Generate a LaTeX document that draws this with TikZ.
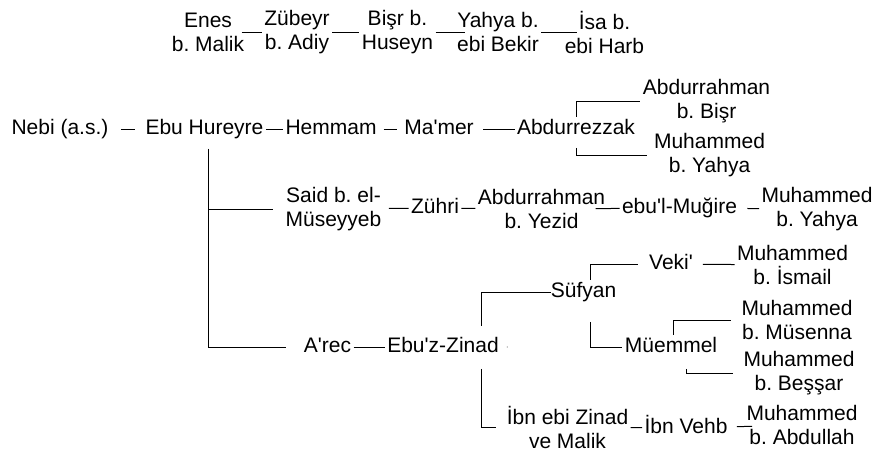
\documentclass[tikz,border=0pt]{standalone}
\usepackage{fontspec}
\newfontfamily\arialfont{Liberation Sans}
\frenchspacing
\usetikzlibrary{positioning}

\tikzset{
  person/.style={inner sep=2pt, text height=15pt, text depth=4.5pt},
  person2/.style={inner sep=2pt, align=center}
}

\begin{document}
\begin{tikzpicture}[x=1pt, y=-1pt, line width=1pt,
    every node/.style={font=\arialfont\frenchspacing\fontsize{21}{24}\selectfont}]
  \useasboundingbox (0,0) rectangle (874,455);

  % upper chain
  \node[person2] (enes)   at (208,32)   {Enes\\b. Malik};
  \node[person2] (zubeyr) at (297,32)   {Zübeyr\\b. Adiy};
  \node[person2] (bisr)   at (397.5,32) {Bişr b.\\Huseyn};
  \node[person2] (yahya)  at (498,32)   {Yahya b.\\ebi Bekir};
  \node[person2] (isa)    at (604.5,32) {İsa b.\\ebi Harb};
  \draw[shorten <=-5pt] (enes) -- (zubeyr);
  \draw (zubeyr) -- (bisr);
  \draw[shorten >=-10pt] (bisr) -- (yahya);
  \draw[shorten >=-15pt] (yahya) -- (isa);

  % main chain
  \node[person]  (nebi)        at (60,129)    {Nebi (a.s.)};
  \node[person]  (ebu)         at (204.5,129) {Ebu Hureyre};
  \node[person]  (hemmam)      at (331,129)   {Hemmam};
  \node[person]  (mamer)       at (439,129)   {Ma'mer};
  \node[person]  (abdurrezzak) at (576,129)   {Abdurrezzak};
  \node[person2] (abdbisr)     at (706.5,101) {Abdurrahman\\b. Bişr};
  \node[person2] (yahyaone)    at (709.5,155) {Muhammed\\b. Yahya};
  \draw[shorten <=10pt, shorten >=8pt] (nebi) -- (ebu);
  \draw (ebu) -- (hemmam);
  \draw[shorten <=4.5pt, shorten >=4.5pt] (hemmam) -- (mamer);
  \draw[shorten <=7pt] (mamer) -- (abdurrezzak);
  \draw (abdurrezzak.north) |- (abdbisr);
  \draw[shorten <=6.5pt, shorten >=5pt] (abdurrezzak.south) |- (yahyaone);

  % Said b. el-Museyyeb
  \node[person2] (said)      at (333.5,209) {Said b. el-\\Müseyyeb};
  \node[person]  (zuhri)     at (435,208)   {Zühri};
  \node[person2] (abdyezid)  at (541.5,209) {Abdurrahman\\b. Yezid};
  \node[person]  (mugire)    at (679.5,208) {ebu'l-Muğire};
  \node[person2] (yahyatwo)  at (817,209)   {Muhammed\\b. Yahya};
  \draw[shorten <=7.5pt, shorten >=10pt] ([xshift=3.5pt]ebu.south) |- (said);
  \draw[shorten <=5pt] (said) -- (zuhri);
  \draw (zuhri) -- (abdyezid);
  \draw[shorten <=-12pt] (abdyezid) -- (mugire);
  \draw[shorten <=8pt] (mugire) -- (yahyatwo);

  % A'rec
  \node[person]  (arec)     at (327.5,347) {A'rec};
  \node[person]  (zinad)    at (443,347)   {Ebu'z-Zinad};
  \node[person]  (sufyan)   at (583.5,292) {Süfyan};
  \node[person]  (veki)     at (671,264)   {Veki'};
  \node[person2] (ismail)   at (792.5,265) {Muhammed\\b. İsmail};
  \node[person]  (muemmel)  at (671,347)   {Müemmel};
  \node[person2] (musenna)  at (797,320)   {Muhammed\\b. Müsenna};
  \node[person2] (bessar)   at (799,373)   {Muhammed\\b. Beşşar};
  \node[person2] (ibnzinad) at (567.5,427) {İbn ebi Zinad\\ve Malik};
  \node[person]  (ibnvehb)  at (686,428)   {İbn Vehb};
  \node[person2] (abdullah) at (802,425)   {Muhammed\\b. Abdullah};
  \draw[shorten <=7.5pt, shorten >=15pt] ([xshift=3.5pt]ebu.south) |- (arec);
  \draw (arec) -- (zinad);
  \fill[gray] ([xshift=6pt]zinad.east) circle (0.7pt);
  \draw[shorten <=9pt, shorten >=-3pt] ([xshift=38pt]zinad.north) |- (sufyan);
  \draw[shorten <=9.5pt, shorten >=8pt] ([xshift=38pt]zinad.south) |- (ibnzinad);
  \draw[shorten >=8.5pt] ([xshift=6.5pt]sufyan.north) |- (veki);
  \draw[shorten <=7.5pt] (veki) -- (ismail);
  \draw[shorten <=17.5pt] ([xshift=6.5pt]sufyan.south) |- (muemmel);
  \draw[shorten >=8.5pt] ([xshift=2pt]muemmel.north) |- (musenna);
  \draw[shorten <=9.5pt, shorten >=8.5pt] ([xshift=15pt]muemmel.south) |- (bessar);
  \draw (ibnzinad) -- (ibnvehb);
  \draw[shorten <=7pt, shorten >=-8pt] (ibnvehb) -- (abdullah);
\end{tikzpicture}
\end{document}
